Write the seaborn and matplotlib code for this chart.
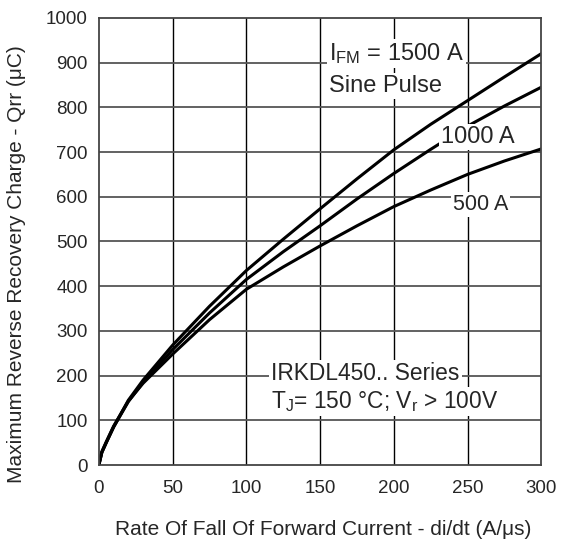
import numpy as np
import pandas as pd
import matplotlib
matplotlib.use("Agg")
import matplotlib.pyplot as plt
import seaborn as sns

didt = [0, 2, 5, 10, 20, 30, 50, 75, 100, 125, 150, 175, 200, 225, 250, 275, 300]
q_1500 = [0, 28, 50, 85, 145, 190, 268, 355, 435, 505, 573, 640, 705, 762, 815, 868, 920]
q_1000 = [0, 28, 50, 85, 142, 185, 258, 340, 415, 477, 535, 595, 652, 706, 758, 803, 845]
q_500 = [0, 30, 52, 87, 143, 183, 248, 325, 393, 443, 490, 535, 578, 615, 650, 680, 707]
series = ["1500 A", "1000 A", "500 A"]
x_ticks = [0, 50, 100, 150, 200, 250, 300]
y_ticks = [0, 100, 200, 300, 400, 500, 600, 700, 800, 900, 1000]

df = pd.concat([
    pd.DataFrame({"x": didt, "y": q, "s": s})
    for q, s in zip([q_1500, q_1000, q_500], series)
])

sns.set_style("white")
plt.rcParams['font.family'] = ['Liberation Sans', 'DejaVu Sans']
plt.rcParams['mathtext.fontset'] = 'custom'
plt.rcParams['mathtext.rm'] = 'Liberation Sans'
plt.rcParams['mathtext.it'] = 'Liberation Sans:italic'

fig = plt.figure(figsize=(5.65, 5.43), dpi=100)
ax = fig.add_axes([0.175, 0.1436, 0.783, 0.8234])

sns.lineplot(data=df, x="x", y="y", hue="s", palette=["black"] * 3,
             linewidth=2.2, legend=False, ax=ax, sort=False)

ax.set_xlim(0, 300)
ax.set_ylim(0, 1000)
ax.set_xticks(x_ticks)
ax.set_yticks(y_ticks)
ax.set_xticklabels([str(v) for v in x_ticks], fontsize=13.5)
ax.set_yticklabels([str(v) for v in y_ticks], fontsize=13.5)
ax.tick_params(axis="y", length=0, pad=8)
ax.tick_params(axis="x", length=0, pad=11)
for v in x_ticks[1:-1]:
    ax.axvline(v, color="black", lw=1.0, zorder=0)
for v in y_ticks[1:-1]:
    ax.axhline(v, color="#555555", lw=1.3, zorder=0)
for sp in ax.spines.values():
    sp.set_color("#444444")
    sp.set_linewidth(1.3)

ax.set_xlabel("Rate Of Fall Of Forward Current - di/dt (A/μs)", fontsize=15)
ax.set_ylabel("Maximum Reverse Recovery Charge - Qrr (μC)", fontsize=15)
ax.xaxis.set_label_coords(0.506, -0.122)
ax.yaxis.set_label_coords(-0.165, 0.45)

box = dict(facecolor="white", edgecolor="none", pad=1.5)
ax.text(156, 906, r"I$_{\mathrm{FM}}$ = 1500 A", fontsize=17, va="baseline", ha="left", bbox=box)
ax.text(156, 834, "Sine Pulse", fontsize=17, va="baseline", ha="left", bbox=box)
ax.text(232, 720, "1000 A", fontsize=17, va="baseline", ha="left", bbox=box)
ax.text(240, 570, "500 A", fontsize=15.5, va="baseline", ha="left", bbox=box)
ax.text(117, 190, "IRKDL450.. Series", fontsize=16.4, va="baseline", ha="left", bbox=box)
ax.text(117, 127.5, r"T$_{\mathrm{J}}$= 150 °C; V$_{\mathrm{r}}$ > 100V", fontsize=16.4,
        va="baseline", ha="left", bbox=box)

fig.savefig("out.png", dpi=100)
